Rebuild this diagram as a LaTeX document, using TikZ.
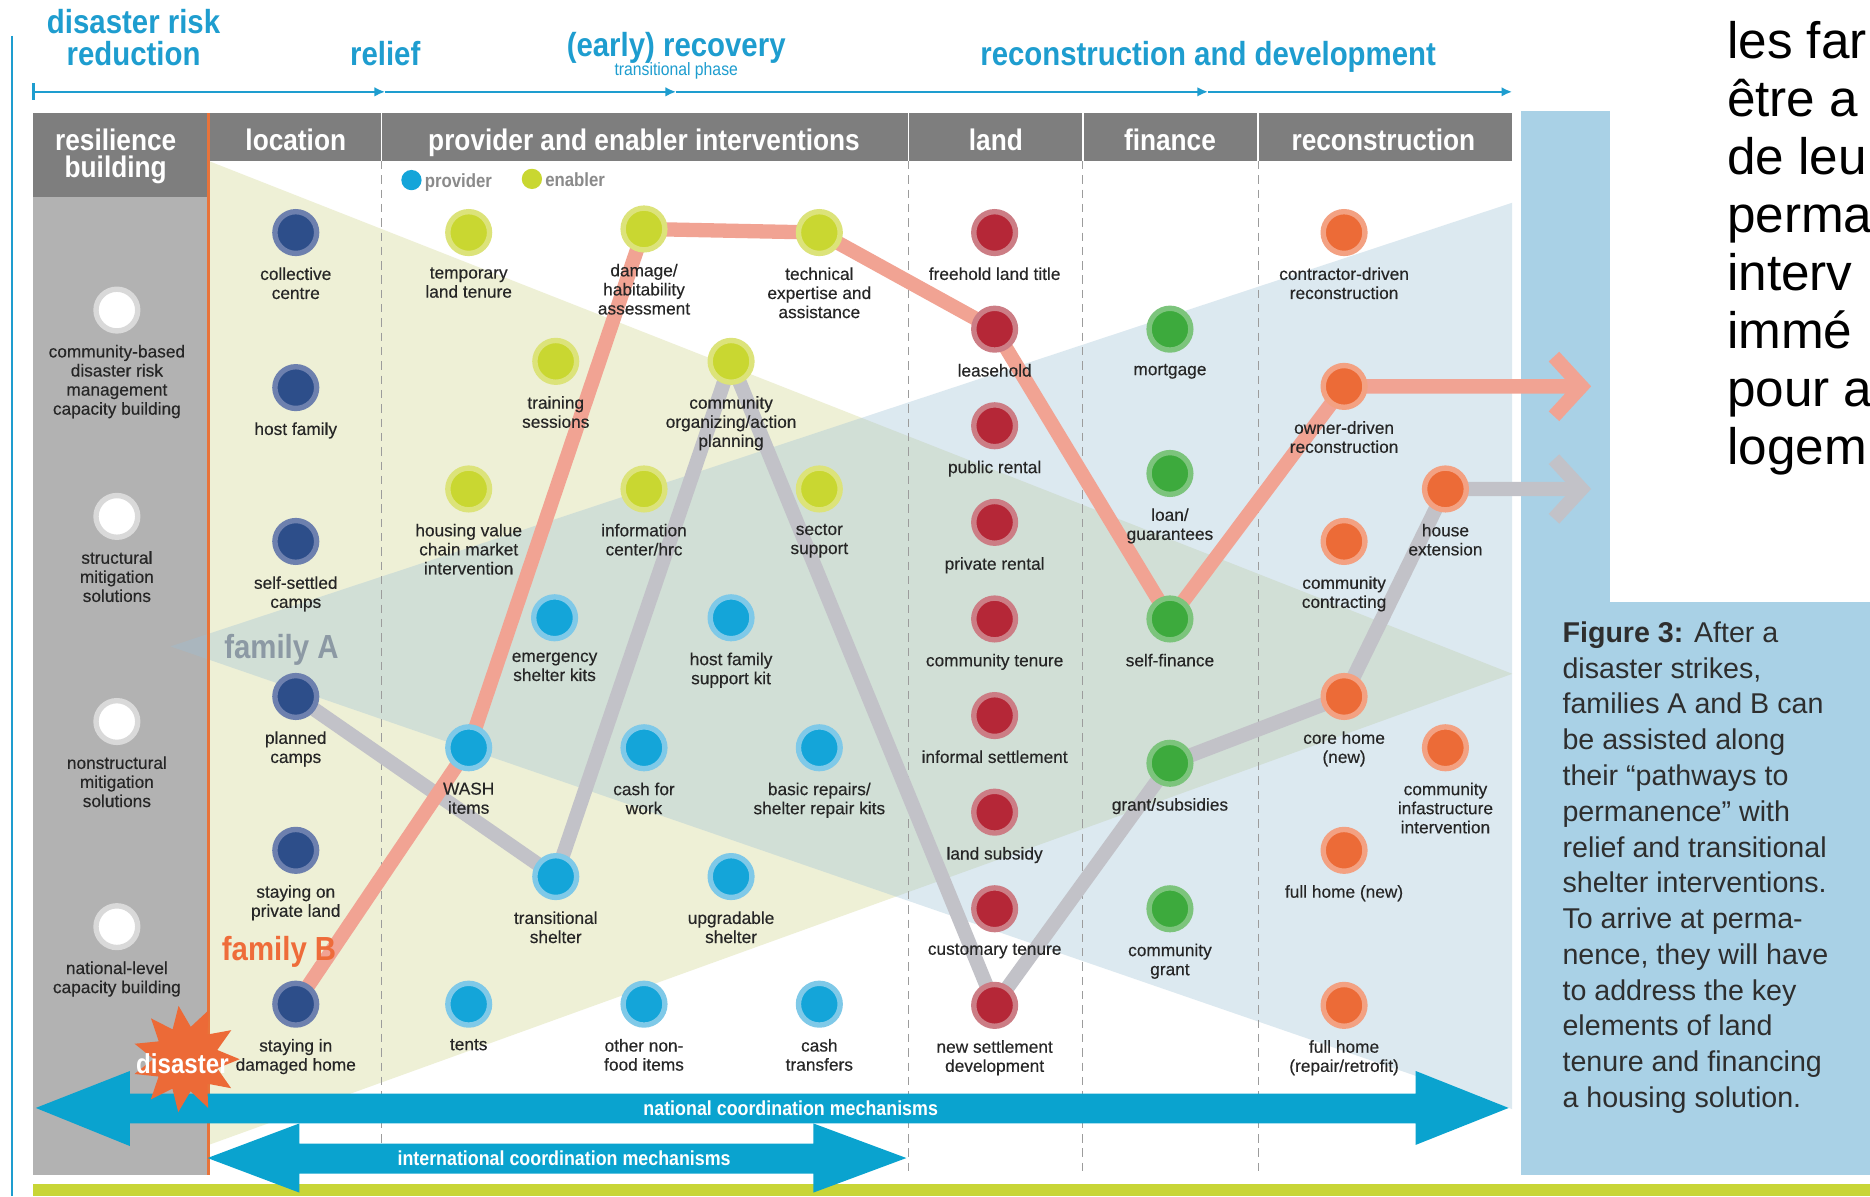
\documentclass[tikz,border=0pt]{standalone}
\usepackage{fontspec}
\setmainfont{Liberation Sans}
\newfontfamily\hdrfont{Liberation Sans}[FakeStretch=0.88]
\newfontfamily\labfont{Liberation Sans}[FakeBold=0.3]
\usetikzlibrary{shapes.geometric,arrows.meta}
\definecolor{hdrgray}{HTML}{7E7E7E}
\definecolor{colgray}{HTML}{B2B2B2}
\definecolor{ttl}{HTML}{1E9DCF}
\definecolor{orangeline}{HTML}{E8733A}
\definecolor{dashgray}{HTML}{9C9C9C}
\definecolor{yelbg}{HTML}{EEF0D6}
\definecolor{bluebg}{HTML}{9CC0D6}
\definecolor{panel}{HTML}{A9D1E6}
\definecolor{bandgreen}{HTML}{C8D536}
\definecolor{arrowblue}{HTML}{0AA3CF}
\definecolor{pinkpath}{HTML}{F1A393}
\definecolor{graypath}{HTML}{C2C2C8}
\definecolor{locF}{HTML}{2D4E8A}\definecolor{locR}{HTML}{6D80AE}
\definecolor{enF}{HTML}{C9D731}\definecolor{enR}{HTML}{DCE37A}
\definecolor{prF}{HTML}{14A5D9}\definecolor{prR}{HTML}{7FC9E8}
\definecolor{ldF}{HTML}{B52737}\definecolor{ldR}{HTML}{CC7D85}
\definecolor{fiF}{HTML}{3DAA3D}\definecolor{fiR}{HTML}{7CC47C}
\definecolor{reF}{HTML}{EC6B37}\definecolor{reR}{HTML}{F3A182}
\definecolor{rsR}{HTML}{D9D9D9}
\definecolor{labtext}{HTML}{262626}
\definecolor{famA}{HTML}{8C99A4}
\definecolor{famB}{HTML}{EE6C3A}
\definecolor{burst}{HTML}{EC6A37}
\definecolor{captext}{HTML}{2E2E2E}
\definecolor{legtext}{HTML}{8A8A8A}
\pgfdeclarelayer{bg}\pgfdeclarelayer{mid}\pgfsetlayers{bg,mid,main}
\tikzset{
  dot/.style 2 args={circle,inner sep=0pt,minimum size=35pt,line width=4.5pt,fill=#1,draw=#2},
  rsdot/.style={dot={white}{rsR}},
  locdot/.style={dot={locF}{locR}},
  endot/.style={dot={enF}{enR}},
  prdot/.style={dot={prF}{prR}},
  lddot/.style={dot={ldF}{ldR}},
  fidot/.style={dot={fiF}{fiR}},
  redot/.style={dot={reF}{reR}},
  lab/.style={anchor=north,align=center,inner sep=0pt,text=labtext,font=\labfont\fontsize{14.5}{16}\selectfont},
  hdr/.style={anchor=base,text=white,inner sep=0pt,font=\hdrfont\bfseries\fontsize{25}{23}\selectfont},
  ttlstyle/.style={anchor=base,text=ttl,inner sep=0pt,font=\hdrfont\bfseries\fontsize{28}{27}\selectfont},
  pathB/.style={draw=pinkpath,line width=12pt,line join=round},
  pathA/.style={draw=graypath,line width=12pt,line join=round},
  colsep/.style={draw=dashgray,line width=1pt,dash pattern=on 7pt off 5pt},
  tline/.style={draw=ttl,line width=2pt,-{Latex[length=9pt,width=8pt]}},
  arrowtxt/.style={text=white,inner sep=0pt,font=\hdrfont\bfseries\fontsize{17}{17}\selectfont},
  captxt/.style={anchor=north west,align=left,inner sep=0pt,text=captext,font=\fontsize{24}{30}\selectfont},
  frtxt/.style={anchor=base west,inner sep=0pt,text=black,font=\fontsize{43}{48}\selectfont},
}
\newcommand\mk[5]{\node[#1] (#2) at (#3,#4) {};\node[lab] (#2t) at ([yshift=-29pt]#2.center) {#5};}
\begin{document}
\begin{tikzpicture}[x=1pt,y=-1pt]
\useasboundingbox (0,0) rectangle (1568,1003);
% ---------------- background layer
\begin{pgfonlayer}{bg}
\fill[white] (0,0) rectangle (1568,1003);
\fill[colgray] (28,95) rectangle (175,985);
\begin{scope}
  \clip (28,135) rectangle (1268,985);
  \fill[yelbg] (175,135) -- (1268,565) -- (175,960) -- cycle;
  \fill[bluebg,fill opacity=0.35] (143,542) -- (1268,170) -- (1268,930) -- cycle;
\end{scope}
\foreach \xx in {320,762,908,1055} {\draw[colsep] (\xx,135) -- (\xx,985);}
\fill[hdrgray] (28,95) rectangle (1268,135);
\fill[hdrgray] (28,95) rectangle (175,165);
\foreach \xx in {320,762,908,1055} {\draw[white,line width=1.2pt] (\xx,95) -- (\xx,135);}
\draw[orangeline,line width=3pt] (175,95) -- (175,985);
% right panel
\fill[panel] (1275,93) rectangle (1568,985);
\fill[white] (1350,0) rectangle (1568,505);
% bottom band and left rule
\fill[bandgreen] (28,993) rectangle (1568,1003);
\draw[ttl,line width=2pt] (10,30) -- (10,1003);
% timeline
\coordinate (tl0) at (28,77);
\coordinate (tl1) at (323,77);
\coordinate (tl2) at (567,77);
\coordinate (tl3) at (1013,77);
\coordinate (tl4) at (1268,77);
\draw[tline] (tl0) -- (tl1);
\draw[tline] (tl1) -- (tl2);
\draw[tline] (tl2) -- (tl3);
\draw[tline] (tl3) -- (tl4);
\draw[ttl,line width=2pt] (28,70) -- (28,84);
\end{pgfonlayer}
% ---------------- titles
\node[ttlstyle] (tD1) at (112,28) {disaster risk};
\node[ttlstyle] (tD2) at (112,55) {reduction};
\node[ttlstyle] (tRel) at (323,55) {relief};
\node[ttlstyle] (tRec) at (567,47) {(early) recovery};
\node[anchor=base,text=ttl,inner sep=0pt,font=\hdrfont\fontsize{15}{15}\selectfont] (tTr) at (567,63) {transitional phase};
\node[ttlstyle] (tRD) at (1013,55) {reconstruction and development};
% ---------------- headers
\node[hdr] (hR1) at (97,126) {resilience};
\node[hdr] (hR2) at (97,149) {building};
\node[hdr] (hLoc) at (248,126) {location};
\node[hdr] (hPro) at (540,126) {provider and enabler interventions};
\node[hdr] (hLand) at (835,126) {land};
\node[hdr] (hFin) at (981,126) {finance};
\node[hdr] (hRec) at (1160,126) {reconstruction};
% legend
\node[circle,fill=prF,inner sep=0pt,minimum size=17pt] (legP) at (345,151) {};
\node[anchor=base west,inner sep=0pt,text=legtext,font=\hdrfont\bfseries\fontsize{16}{16}\selectfont] (legPt) at (356,157) {provider};
\node[circle,fill=enF,inner sep=0pt,minimum size=17pt] (legE) at (446,150) {};
\node[anchor=base west,inner sep=0pt,text=legtext,font=\hdrfont\bfseries\fontsize{16}{16}\selectfont] (legEt) at (457,156) {enabler};
% ---------------- nodes
\mk{rsdot}{r1}{98}{260}{community-based\\disaster risk\\management\\capacity building}
\mk{rsdot}{r2}{98}{433}{structural\\mitigation\\solutions}
\mk{rsdot}{r3}{98}{605}{nonstructural\\mitigation\\solutions}
\mk{rsdot}{r4}{98}{777}{national-level\\capacity building}
\mk{locdot}{l1}{248}{195}{collective\\centre}
\mk{locdot}{l2}{248}{325}{host family}
\mk{locdot}{l3}{248}{454}{self-settled\\camps}
\mk{locdot}{l4}{248}{584}{planned\\camps}
\mk{locdot}{l5}{248}{713}{staying on\\private land}
\mk{locdot}{l6}{248}{842}{staying in\\damaged home}
\mk{endot}{e1}{393}{195}{temporary\\land tenure}
\mk{endot}{e2}{540}{192}{damage/\\habitability\\assessment}
\mk{endot}{e3}{687}{195}{technical\\expertise and\\assistance}
\mk{endot}{e4}{466}{303}{training\\sessions}
\mk{endot}{e5}{613}{303}{community\\organizing/action\\planning}
\mk{endot}{e6}{393}{410}{housing value\\chain market\\intervention}
\mk{endot}{e7}{540}{410}{information\\center/hrc}
\mk{endot}{e8}{687}{410}{sector\\support}
\mk{prdot}{p1}{465}{518}{emergency\\shelter kits}
\mk{prdot}{p2}{613}{518}{host family\\support kit}
\mk{prdot}{p3}{393}{627}{WASH\\items}
\mk{prdot}{p4}{540}{627}{cash for\\work}
\mk{prdot}{p5}{687}{627}{basic repairs/\\shelter repair kits}
\mk{prdot}{p6}{466}{735}{transitional\\shelter}
\mk{prdot}{p7}{613}{735}{upgradable\\shelter}
\mk{prdot}{p8}{393}{842}{tents}
\mk{prdot}{p9}{540}{842}{other non-\\food items}
\mk{prdot}{p10}{687}{842}{cash\\transfers}
\mk{lddot}{d1}{834}{195}{freehold land title}
\mk{lddot}{d2}{834}{276}{leasehold}
\mk{lddot}{d3}{834}{357}{public rental}
\mk{lddot}{d4}{834}{438}{private rental}
\mk{lddot}{d5}{834}{519}{community tenure}
\mk{lddot}{d6}{834}{600}{informal settlement}
\mk{lddot}{d7}{834}{681}{land subsidy}
\mk{lddot}{d8}{834}{762}{customary tenure}
\mk{lddot}{d9}{834}{843}{new settlement\\development}
\mk{fidot}{f1}{981}{276}{mortgage}
\mk{fidot}{f2}{981}{397}{loan/\\guarantees}
\mk{fidot}{f3}{981}{519}{self-finance}
\mk{fidot}{f4}{981}{640}{grant/subsidies}
\mk{fidot}{f5}{981}{762}{community\\grant}
\mk{redot}{c1}{1127}{195}{contractor-driven\\reconstruction}
\mk{redot}{c2}{1127}{324}{owner-driven\\reconstruction}
\mk{redot}{c3}{1212}{410}{house\\extension}
\mk{redot}{c4}{1127}{454}{community\\contracting}
\mk{redot}{c5}{1127}{584}{core home\\(new)}
\mk{redot}{c6}{1212}{627}{community\\infastructure\\intervention}
\mk{redot}{c7}{1127}{713}{full home (new)}
\mk{redot}{c8}{1127}{843}{full home\\(repair/retrofit)}
% ---------------- pathways
\coordinate (endB) at (1326,324);
\coordinate (endBu) at (1303,299);
\coordinate (endBd) at (1303,349);
\coordinate (endA) at (1326,410);
\coordinate (endAu) at (1303,385);
\coordinate (endAd) at (1303,435);
\begin{pgfonlayer}{mid}
\draw[pathA] (l4.center) -- (p6.center) -- (e5.center) -- (d9.center) -- (f4.center) -- (c5.center) -- (c3.center) -- (endA);
\draw[pathA,line join=miter] (endAu) -- (endA) -- (endAd);
\draw[pathB] (l6.center) -- (p3.center) -- (e2.center) -- (e3.center) -- (d2.center) -- (f3.center) -- (c2.center) -- (endB);
\draw[pathB,line join=miter] (endBu) -- (endB) -- (endBd);
\end{pgfonlayer}
% ---------------- family labels
\node[text=famA,inner sep=0pt,font=\hdrfont\bfseries\fontsize{28}{28}\selectfont] (famAt) at (236,545) {family A};
\node[text=famB,inner sep=0pt,font=\hdrfont\bfseries\fontsize{28}{28}\selectfont] (famBt) at (234,798) {family B};
% ---------------- coordination arrows
\fill[arrowblue] (30,929) -- (109,898) -- (109,917) -- (1187,917) -- (1187,898) -- (1265,929) -- (1187,960) -- (1187,942) -- (109,942) -- (109,961) -- cycle;
\node[arrowtxt] (natl) at (663,929) {national coordination mechanisms};
\fill[arrowblue] (174,971) -- (251,942) -- (251,959) -- (682,959) -- (682,942) -- (760,971) -- (682,1000) -- (682,984) -- (251,984) -- (251,1000) -- cycle;
\node[arrowtxt] (intl) at (473,971) {international coordination mechanisms};
% ---------------- disaster burst
\node[star,star points=11,star point ratio=1.65,fill=burst,inner sep=0pt,minimum size=90pt,rotate=8] (burst) at (156,888) {};
\node[text=white,inner sep=0pt,font=\hdrfont\bfseries\fontsize{23}{23}\selectfont] (burstt) at (153,892) {disaster};
% ---------------- caption
\node[captxt] (cap) at (1310,521) {\textbf{Figure 3:} After a\\disaster strikes,\\families A and B can\\be assisted along\\their “pathways to\\permanence” with\\relief and transitional\\shelter interventions.\\To arrive at perma-\\nence, they will have\\to address the key\\elements of land\\tenure and financing\\a housing solution.};
% ---------------- French text (cut at the right edge)
\begin{scope}
\clip (1350,0) rectangle (1568,505);
\node[frtxt] (fr1) at (1448,49) {les far};
\node[frtxt] (fr2) at (1448,97.6) {être a};
\node[frtxt] (fr3) at (1448,146.2) {de leu};
\node[frtxt] (fr4) at (1448,194.8) {perma};
\node[frtxt] (fr5) at (1448,243.4) {interv};
\node[frtxt] (fr6) at (1448,292) {immé};
\node[frtxt] (fr7) at (1448,340.6) {pour a};
\node[frtxt] (fr8) at (1448,389.2) {logem};
\end{scope}
\end{tikzpicture}
\end{document}
